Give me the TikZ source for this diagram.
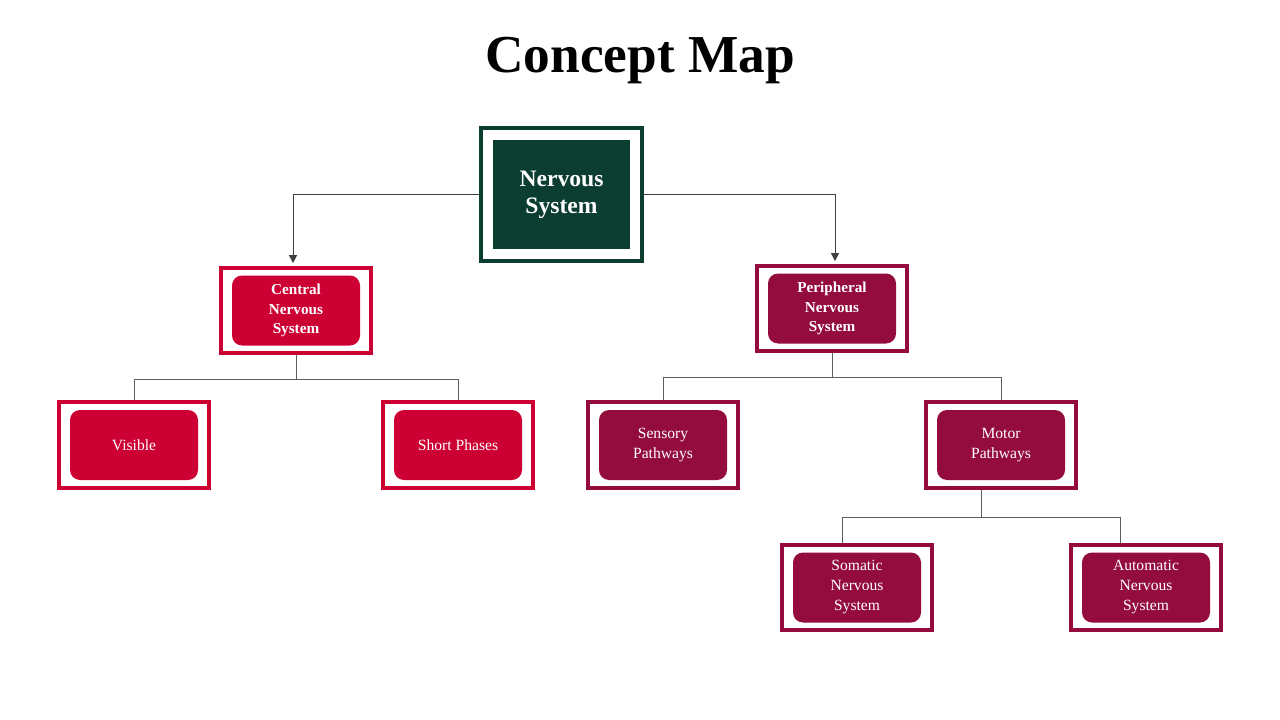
\documentclass[tikz,border=0pt]{standalone}
\usepackage{fontspec}
\setmainfont{Liberation Serif}
\usetikzlibrary{fit,arrows.meta}
\definecolor{nsgreen}{RGB}{11,61,48}
\definecolor{cnsred}{RGB}{204,0,51}
\definecolor{pnsred}{RGB}{147,12,61}
\definecolor{linkgray}{RGB}{64,64,64}
\tikzset{
  inbox/.style={rounded corners=7.5pt,minimum width=96pt,minimum height=52.5pt,inner sep=0pt,
    text=white,align=center,font=\fontsize{11.7}{15}\selectfont},
  cbox/.style={inbox,fill=cnsred},
  pbox/.style={inbox,fill=pnsred},
  headbox/.style={inbox,font=\fontsize{11.4}{14.6}\selectfont\bfseries},
  boxframe/.style={draw=#1,line width=3pt,inner xsep=8.25pt,inner ysep=5.6pt},
  link/.style={linkgray!85!white,line width=0.75pt},
  tolink/.style={linkgray,line width=0.75pt,-{Triangle[length=6pt,width=6pt]},shorten >=2pt}
}
\begin{document}
\begin{tikzpicture}[x=0.75pt,y=-0.75pt]
\useasboundingbox (0,0) rectangle (1280,720);
\node[font=\fontsize{40}{48}\selectfont\bfseries,anchor=base] (title) at (640,73) {Concept Map};
% top
\node[inbox,fill=nsgreen,rounded corners=0pt,minimum width=102.75pt,minimum height=81.75pt,
  font=\fontsize{17.7}{20.25}\selectfont\bfseries] (ns) at (561.5,194.5) {Nervous\\System};
\node[draw=nsgreen,line width=3pt,inner xsep=9pt,inner ysep=8.6pt,fit=(ns)] (nsF) {};
% second row
\node[cbox,headbox] (cns) at (296,310.5) {Central\\Nervous\\System};
\node[boxframe=cnsred,fit=(cns)] (cnsF) {};
\node[pbox,headbox] (pns) at (832,308.5) {Peripheral\\Nervous\\System};
\node[boxframe=pnsred,fit=(pns)] (pnsF) {};
% third row
\node[cbox] (vis) at (134,445) {Visible};
\node[boxframe=cnsred,fit=(vis)] (visF) {};
\node[cbox] (sph) at (458,445) {Short Phases};
\node[boxframe=cnsred,fit=(sph)] (sphF) {};
\node[pbox] (sen) at (663,445) {Sensory\\Pathways};
\node[boxframe=pnsred,fit=(sen)] (senF) {};
\node[pbox] (mot) at (1001,445) {Motor\\Pathways};
\node[boxframe=pnsred,fit=(mot)] (motF) {};
% bottom row
\node[pbox] (som) at (857,587.5) {Somatic\\Nervous\\System};
\node[boxframe=pnsred,fit=(som)] (somF) {};
\node[pbox] (aut) at (1146,587.5) {Automatic\\Nervous\\System};
\node[boxframe=pnsred,fit=(aut)] (autF) {};
% connectors
\draw[tolink] (nsF.west) -| ([xshift=-2.25pt]cnsF.north);
\draw[tolink] (nsF.east) -| ([xshift=2.25pt]pnsF.north);
\draw[link] (cnsF.south) -- ++(0,24) -| (visF.north);
\draw[link] (cnsF.south) ++(0,24) -| (sphF.north);
\draw[link] (pnsF.south) -- ++(0,24) -| (senF.north);
\draw[link] (pnsF.south) ++(0,24) -| (motF.north);
\draw[link] ([xshift=-15pt]motF.south) -- ++(0,28) -| ([xshift=-11.25pt]somF.north);
\draw[link] ([xshift=-15pt]motF.south) ++(0,28) -| ([xshift=-19.5pt]autF.north);
\end{tikzpicture}
\end{document}
